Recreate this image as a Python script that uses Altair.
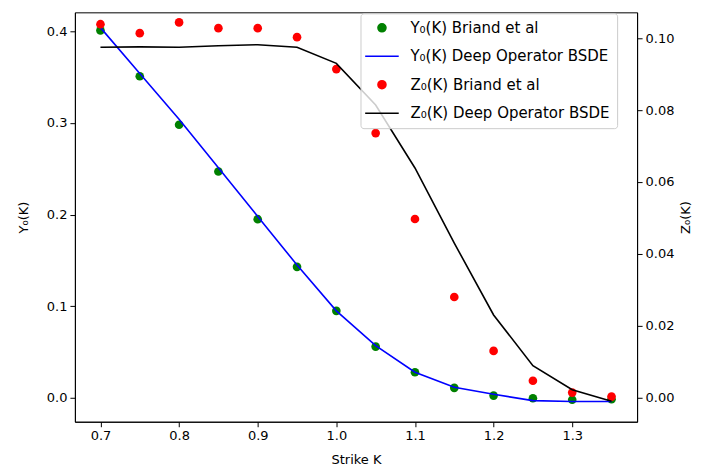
import altair as alt
import pandas as pd

strikes = [0.70, 0.75, 0.80, 0.85, 0.90, 0.95, 1.00, 1.05, 1.10, 1.15, 1.20, 1.25, 1.30, 1.35]
y_briand = [0.401, 0.351, 0.298, 0.247, 0.195, 0.143, 0.095, 0.056, 0.028, 0.011, 0.0025, -0.0004, -0.002, -0.0015]
y_deep = [0.404, 0.354, 0.304, 0.251, 0.198, 0.145, 0.095, 0.057, 0.028, 0.0116, 0.004, -0.003, -0.004, -0.004]
z_briand = [0.1039, 0.1014, 0.1044, 0.1028, 0.1028, 0.1003, 0.0914, 0.0736, 0.0497, 0.028, 0.013, 0.0047, 0.0014, 0.0003]
z_deep = [0.0975, 0.0976, 0.0975, 0.0979, 0.0982, 0.0975, 0.093, 0.0814, 0.0639, 0.043, 0.023, 0.0089, 0.0022, -0.001]

labels = ["Y₀(K) Briand et al", "Y₀(K) Deep Operator BSDE",
          "Z₀(K) Briand et al", "Z₀(K) Deep Operator BSDE"]
colors = ["green", "blue", "red", "black"]
LINE_SYM = "M-4.2,0H4.2"
shapes = ["circle", LINE_SYM, "circle", LINE_SYM]

def frame(vals, lab):
    return pd.DataFrame({"K": strikes, "v": vals, "series": lab})

FONT = "DejaVu Sans"

xenc = alt.X("K:Q", scale=alt.Scale(domain=[0.6675, 1.3825], nice=False, zero=False),
             axis=alt.Axis(title="Strike K", values=[0.7, 0.8, 0.9, 1.0, 1.1, 1.2, 1.3],
                           format=".1f", grid=False, titlePadding=11))

leg = alt.Legend(title=None, orient="none", legendX=286, legendY=1,
                 fillColor="rgba(255,255,255,0.8)",
                 strokeColor="#cccccc", cornerRadius=3, padding=7,
                 labelFontSize=15, labelFont=FONT, symbolSize=64,
                 symbolStrokeWidth=1.6, rowPadding=12.5, symbolOffset=7,
                 labelLimit=400, labelOffset=21)
color = alt.Color("series:N", scale=alt.Scale(domain=labels, range=colors), legend=leg)
shape = alt.Shape("series:N", scale=alt.Scale(domain=labels, range=shapes), legend=leg)

yleft = alt.Y("v:Q", scale=alt.Scale(domain=[-0.026, 0.4207], nice=False, zero=False),
              axis=alt.Axis(title="Y₀(K)", values=[0.0, 0.1, 0.2, 0.3, 0.4], format=".1f",
                            grid=False, orient="left", titlePadding=16))
yright = alt.Y("v:Q", scale=alt.Scale(domain=[-0.0067, 0.1072], nice=False, zero=False),
               axis=alt.Axis(title="Z₀(K)", values=[0.0, 0.02, 0.04, 0.06, 0.08, 0.10],
                             format=".2f", grid=False, orient="right", titlePadding=19,
                             titleAngle=270, titleBaseline="bottom"))

g_pts = alt.Chart(frame(y_briand, labels[0])).mark_point(size=75, opacity=1, filled=True).encode(
    x=xenc, y=yleft, color=color, shape=shape)
b_line = alt.Chart(frame(y_deep, labels[1])).mark_line(strokeWidth=1.6).encode(
    x=xenc, y=yleft, color=color)
left = alt.layer(g_pts, b_line)

r_pts = alt.Chart(frame(z_briand, labels[2])).mark_point(size=75, opacity=1, filled=True).encode(
    x=xenc, y=yright, color=color, shape=shape)
k_line = alt.Chart(frame(z_deep, labels[3])).mark_line(strokeWidth=1.6).encode(
    x=xenc, y=yright, color=color)
right = alt.layer(r_pts, k_line)

chart = alt.layer(left, right).resolve_scale(y="independent").properties(
    width=563, height=410,
    autosize=alt.AutoSizeParams(type="none"),
    padding={"left": 67, "top": 4, "right": 60, "bottom": 48},
).configure_view(stroke="black", strokeWidth=1).configure_axis(
    labelFont=FONT, titleFont=FONT, labelFontSize=13, titleFontSize=13,
    titleFontWeight="normal", labelColor="black", titleColor="black",
    domainColor="black", tickColor="black", tickSize=5, labelPadding=3
)

chart.save("out.html", embed_options={"renderer": "svg", "actions": False})
